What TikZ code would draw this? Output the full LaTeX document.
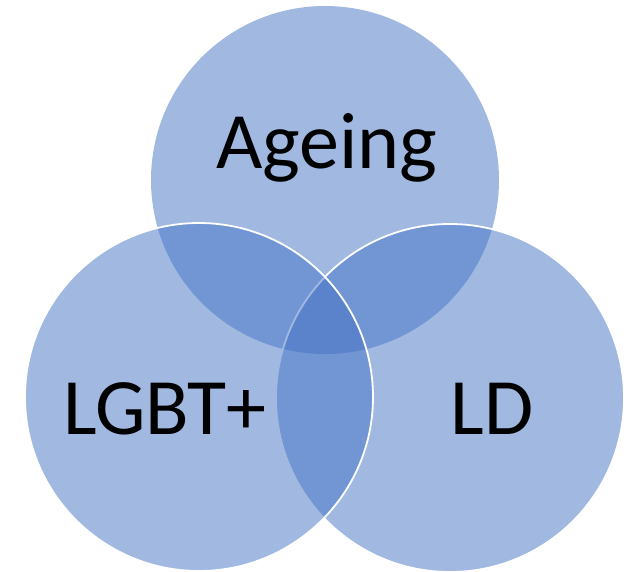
\documentclass[tikz,border=0pt]{standalone}
\usepackage{fontspec}
\setmainfont{Carlito}
\usetikzlibrary{positioning}
\definecolor{vennblue}{HTML}{4472C4}

\begin{document}
\begin{tikzpicture}[x=1pt,y=-1pt]
% STYLES
\tikzset{%
    set/.style={%
        circle,minimum size=348pt,inner sep=0pt,
        fill=vennblue,fill opacity=0.5,draw=white,line width=1.8pt
    },
    setname/.style={%
        anchor=base,inner sep=0pt,text=black,
        font=\fontsize{80}{96}\selectfont
    }
}
\useasboundingbox (0,0) rectangle (629,572);
% Draw sets
\node [set,draw=none] (ageing) at (325,180) {};
\node [set] (ld) at (450,398) {};
\node [set] (lgbt) at (199,397) {};
% Draw names
\node [setname] (ageingname) at (327,169) {Ageing};
\node [setname] (lgbtname) at (165,434) {LGBT+};
\node [setname] (ldname) at (492,434) {LD};
\end{tikzpicture}
\end{document}
